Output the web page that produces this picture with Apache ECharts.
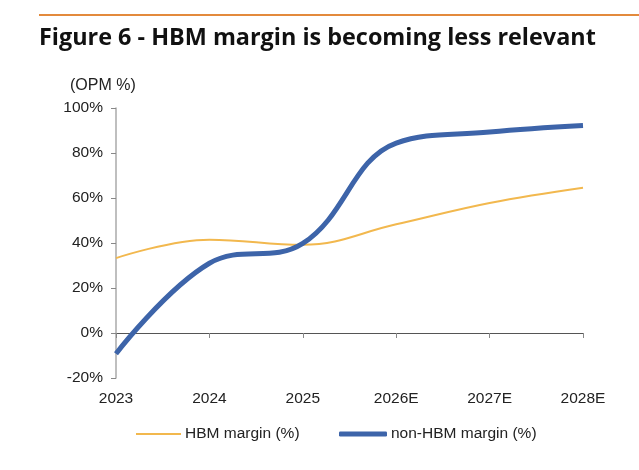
<!DOCTYPE html>
<html><head><meta charset="utf-8">
<script src="https://cdn.jsdelivr.net/npm/echarts@6/dist/echarts.min.js"></script>
<style>html,body{margin:0;padding:0;background:#fff}#c{width:639px;height:470px}</style>
</head><body><div id="c"></div>
<script>
const categories = ['2023', '2024', '2025', '2026E', '2027E', '2028E'];
const hbmMargin = [33.3, 41.5, 39.2, 48.3, 57.8, 64.6];
const nonHbmMargin = [-9.2, 31.0, 39.8, 84.4, 89.3, 92.2];
const yTicks = [-20, 0, 20, 40, 60, 80, 100];

const chart = echarts.init(document.getElementById('c'));
chart.setOption({
  animation: false,
  textStyle: { fontFamily: 'Liberation Sans, Arial, sans-serif' },
  graphic: [
    { type: 'rect', shape: { x: 39, y: 14, width: 600, height: 2 }, style: { fill: '#E38A3C' } },
    { type: 'text', left: 39, top: 27, style: { text: 'Figure 6 - HBM margin is becoming less relevant', font: 'bold 23.4px "Open Sans", sans-serif', fill: '#111' } },
    { type: 'text', left: 70, top: 78, style: { text: '(OPM %)', font: '16px "Liberation Sans", Arial, sans-serif', fill: '#222' } }
  ],
  grid: { left: 116, right: 56, top: 108, bottom: 92, containLabel: false },
  xAxis: {
    type: 'category', data: categories, boundaryGap: false,
    axisLine: { onZero: true, lineStyle: { color: '#555', width: 1 } },
    axisTick: { show: true, length: 5, lineStyle: { color: '#888' } },
    axisLabel: { margin: 13, color: '#222', fontSize: 15.5, interval: 0 },
    splitLine: { show: false }
  },
  yAxis: {
    type: 'value', min: yTicks[0], max: yTicks[yTicks.length - 1], interval: 20,
    axisLine: { show: true, lineStyle: { color: '#aaa', width: 1.5 } },
    axisTick: { show: true, length: 5, lineStyle: { color: '#888' } },
    axisLabel: { color: '#222', fontSize: 15.5, margin: 13, formatter: v => v + '%' },
    splitLine: { show: false }
  },
  legend: [
    { top: 421, left: 131, padding: 5, itemWidth: 45, itemHeight: 2, icon: 'rect', itemGap: 14,
      textStyle: { fontSize: 15.5, color: '#222', padding: [0, 0, 0, -1] }, data: ['HBM margin (%)'] },
    { top: 421, left: 334, padding: 5, itemWidth: 48, itemHeight: 5, icon: 'roundRect', itemGap: 14,
      textStyle: { fontSize: 15.5, color: '#222', padding: [0, 0, 0, -1] }, data: ['non-HBM margin (%)'] }
  ],
  series: [
    { name: 'HBM margin (%)', type: 'line', data: hbmMargin, smooth: 0.4, symbol: 'none',
      lineStyle: { color: '#F2B84E', width: 2 }, itemStyle: { color: '#F2B84E' } },
    { name: 'non-HBM margin (%)', type: 'line', data: nonHbmMargin, smooth: 0.4, symbol: 'none',
      lineStyle: { color: '#3D64A9', width: 5 }, itemStyle: { color: '#3D64A9' } }
  ]
});
</script></body></html>
